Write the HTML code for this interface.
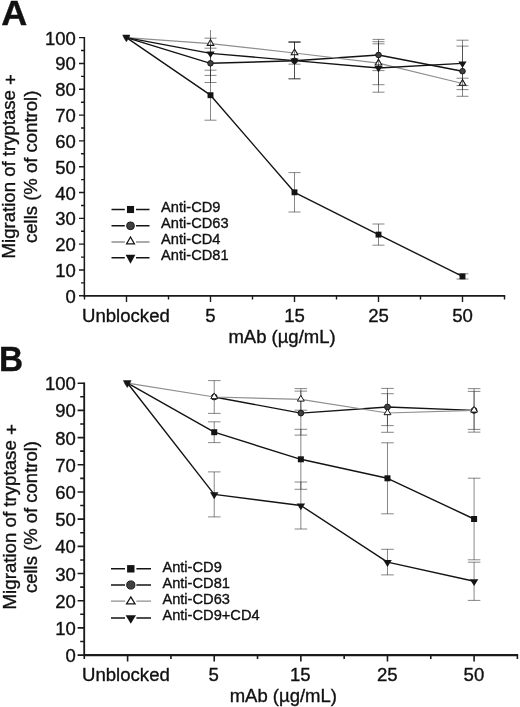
<!DOCTYPE html>
<html><head><meta charset="utf-8"><title>Figure</title>
<style>
html,body{margin:0;padding:0;background:#fff;}
body{width:520px;height:707px;overflow:hidden;}
svg{display:block;font-family:"Liberation Sans", sans-serif;fill:#111;will-change:transform;filter:grayscale(1);}
svg text{stroke:#111;stroke-width:0.35px;}
</style></head>
<body>
<svg width="520" height="707" viewBox="0 0 520 707">
<rect width="520" height="707" fill="#fff"/>
<text transform="translate(1.3 25.4) scale(1.055 1)" font-size="34.2" font-weight="bold">A</text>
<path d="M84.35 36.93V296.7" stroke="#1a1a1a" stroke-width="1.55" fill="none"/>
<path d="M83.57 295.8H505.2" stroke="#1a1a1a" stroke-width="1.8" fill="none"/>
<path d="M84.35 295.8h-5.35M84.35 282.89h-3.35M84.35 269.99h-5.35M84.35 257.08h-3.35M84.35 244.17h-5.35M84.35 231.26h-3.35M84.35 218.36h-5.35M84.35 205.45h-3.35M84.35 192.54h-5.35M84.35 179.63h-3.35M84.35 166.72h-5.35M84.35 153.82h-3.35M84.35 140.91h-5.35M84.35 128h-3.35M84.35 115.09h-5.35M84.35 102.19h-3.35M84.35 89.28h-5.35M84.35 76.37h-3.35M84.35 63.46h-5.35M84.35 50.56h-3.35M84.35 37.65h-5.35M84.5 295.8v3.8M126.5 295.8v6.3M168.5 295.8v3.8M210.5 295.8v6.3M252.5 295.8v3.8M294.5 295.8v6.3M336.5 295.8v3.8M378.5 295.8v6.3M420.5 295.8v3.8M462.5 295.8v6.3M504.5 295.8v3.8" stroke="#1a1a1a" stroke-width="1.4" fill="none"/>
<text transform="translate(75.8 302.8) scale(1 1.02)" text-anchor="end" font-size="18.5">0</text>
<text transform="translate(75.8 276.99) scale(1 1.02)" text-anchor="end" font-size="18.5">10</text>
<text transform="translate(75.8 251.17) scale(1 1.02)" text-anchor="end" font-size="18.5">20</text>
<text transform="translate(75.8 225.36) scale(1 1.02)" text-anchor="end" font-size="18.5">30</text>
<text transform="translate(75.8 199.54) scale(1 1.02)" text-anchor="end" font-size="18.5">40</text>
<text transform="translate(75.8 173.72) scale(1 1.02)" text-anchor="end" font-size="18.5">50</text>
<text transform="translate(75.8 147.91) scale(1 1.02)" text-anchor="end" font-size="18.5">60</text>
<text transform="translate(75.8 122.09) scale(1 1.02)" text-anchor="end" font-size="18.5">70</text>
<text transform="translate(75.8 96.28) scale(1 1.02)" text-anchor="end" font-size="18.5">80</text>
<text transform="translate(75.8 70.46) scale(1 1.02)" text-anchor="end" font-size="18.5">90</text>
<text transform="translate(75.8 44.65) scale(1 1.02)" text-anchor="end" font-size="18.5">100</text>
<text transform="translate(125.9 321.7) scale(1 1.02)" text-anchor="middle" font-size="18.6">Unblocked</text>
<text transform="translate(210.5 321.7) scale(1 1.02)" text-anchor="middle" font-size="18.6">5</text>
<text transform="translate(294.5 321.7) scale(1 1.02)" text-anchor="middle" font-size="18.6">15</text>
<text transform="translate(378.5 321.7) scale(1 1.02)" text-anchor="middle" font-size="18.6">25</text>
<text transform="translate(462.5 321.7) scale(1 1.02)" text-anchor="middle" font-size="18.6">50</text>
<text transform="translate(282 343.1) scale(1 1.02)" text-anchor="middle" font-size="18.5">mAb (µg/mL)</text>
<text transform="translate(15.1 166.22) rotate(-90) scale(1 1.02)" text-anchor="middle" font-size="18.6">Migration of tryptase <tspan dy="2.1">+</tspan></text>
<text transform="translate(36.7 166.82) rotate(-90) scale(1 1.02)" text-anchor="middle" font-size="18.55">cells (% of control)</text>
<clipPath id="ca"><rect x="84.5" y="34.8" width="430" height="261"/></clipPath>
<path d="M210.5 70.2V120.2M204.5 70.2h12M204.5 120.2h12M294.5 172.6V212M288.5 172.6h12M288.5 212h12M378.5 224V245.2M372.5 224h12M372.5 245.2h12M462.5 273.8V279M456.5 273.8h12M456.5 279h12M210.5 44.1V82.5M204.5 82.5h12M294.5 42.3V78.8M288.5 42.3h12M288.5 78.8h12M378.5 39.4V70.6M372.5 39.4h12M372.5 70.6h12M462.5 46.1V96.3M456.5 46.1h12M456.5 96.3h12M210.5 38.2V48.2M204.5 38.2h12M204.5 48.2h12M294.5 41.6V64.2M288.5 41.6h12M288.5 64.2h12M378.5 41.7V84.7M372.5 41.7h12M372.5 84.7h12M462.5 78.2V89.6M456.5 78.2h12M456.5 89.6h12M210.5 30V75.4M204.5 75.4h12M294.5 42.3V78.8M288.5 42.3h12M288.5 78.8h12M378.5 43.8V92.2M372.5 43.8h12M372.5 92.2h12M462.5 40.2V85.6M456.5 40.2h12M456.5 85.6h12" stroke="#222" stroke-width="0.55" fill="none"/>
<path d="M126.5 37.65L210.5 95.2L294.5 192.3L378.5 234.6L462.5 276.4" stroke="#141414" stroke-width="1.4" fill="none" stroke-linejoin="round" clip-path="url(#ca)"/>
<g clip-path="url(#ca)"><rect x="207.55" y="92.25" width="5.9" height="5.9" fill="#141414"/><rect x="291.55" y="189.35" width="5.9" height="5.9" fill="#141414"/><rect x="375.55" y="231.65" width="5.9" height="5.9" fill="#141414"/><rect x="459.55" y="273.45" width="5.9" height="5.9" fill="#141414"/></g>
<path d="M126.5 37.65L210.5 63.3L294.5 60.8L378.5 55L462.5 71.2" stroke="#141414" stroke-width="1.4" fill="none" stroke-linejoin="round" clip-path="url(#ca)"/>
<g clip-path="url(#ca)"><circle cx="210.5" cy="63.3" r="2.8" fill="#404040" stroke="#1a1a1a" stroke-width="1"/><circle cx="294.5" cy="60.8" r="2.8" fill="#404040" stroke="#1a1a1a" stroke-width="1"/><circle cx="378.5" cy="55" r="2.8" fill="#404040" stroke="#1a1a1a" stroke-width="1"/><circle cx="462.5" cy="71.2" r="2.8" fill="#404040" stroke="#1a1a1a" stroke-width="1"/></g>
<path d="M126.5 37.65L210.5 43.6L294.5 53L378.5 63.2L462.5 83.5" stroke="#8e8e8e" stroke-width="1.25" fill="none" stroke-linejoin="round" clip-path="url(#ca)"/>
<g clip-path="url(#ca)"><path d="M210.5 39.6L213.8 45.35L207.2 45.35Z" fill="#fff" stroke="#141414" stroke-width="1.1"/><path d="M294.5 49L297.8 54.75L291.2 54.75Z" fill="#fff" stroke="#141414" stroke-width="1.1"/><path d="M378.5 59.2L381.8 64.95L375.2 64.95Z" fill="#fff" stroke="#141414" stroke-width="1.1"/><path d="M462.5 79.5L465.8 85.25L459.2 85.25Z" fill="#fff" stroke="#141414" stroke-width="1.1"/></g>
<path d="M126.5 37.65L210.5 53.4L294.5 60.6L378.5 68L462.5 63.4" stroke="#141414" stroke-width="1.4" fill="none" stroke-linejoin="round" clip-path="url(#ca)"/>
<path d="M210.5 39.4V45.5M294.5 48.8V54.9M378.5 59V65.1M462.5 79.3V85.4" stroke="#222" stroke-width="0.55" fill="none"/>
<g clip-path="url(#ca)"><path d="M210.5 57.9L214.6 51.4L206.4 51.4Z" fill="#141414"/><path d="M294.5 65.1L298.6 58.6L290.4 58.6Z" fill="#141414"/><path d="M378.5 72.5L382.6 66L374.4 66Z" fill="#141414"/><path d="M462.5 67.9L466.6 61.4L458.4 61.4Z" fill="#141414"/></g>
<path d="M122.7 35H129.9L128.5 38.5L126.4 41.8L124.3 38.5Z" fill="#141414" stroke="#141414" stroke-width="0.5" stroke-linejoin="round"/>
<path d="M111.5 209.5H124.8M136 209.5H149.5" stroke="#141414" stroke-width="1.45" fill="none"/>
<rect x="126.95" y="205.95" width="7.1" height="7.1" fill="#141414"/>
<text transform="translate(161.1 212) scale(1 1.02)" font-size="14.65">Anti-CD9</text>
<path d="M111.5 225.8H124.8M136 225.8H149.5" stroke="#141414" stroke-width="1.45" fill="none"/>
<circle cx="130.5" cy="225.8" r="3.9" fill="#404040" stroke="#1a1a1a" stroke-width="1"/>
<text transform="translate(161.1 228.1) scale(1 1.02)" font-size="14.65">Anti-CD63</text>
<path d="M111.5 242H124.8M136 242H149.5" stroke="#8e8e8e" stroke-width="1.3" fill="none"/>
<path d="M130.5 236.98L134.43 243.97L126.57 243.97Z" fill="#fff" stroke="#141414" stroke-width="1.25"/>
<text transform="translate(161.1 244.2) scale(1 1.02)" font-size="14.65">Anti-CD4</text>
<path d="M111.5 257.8H124.8M136 257.8H149.5" stroke="#141414" stroke-width="1.45" fill="none"/>
<path d="M130.5 263.8L135.4 254.7L125.6 254.7Z" fill="#141414"/>
<text transform="translate(161.1 260.1) scale(1 1.02)" font-size="14.65">Anti-CD81</text>
<text transform="translate(-0.9 370.6) scale(0.975 1)" font-size="34.2" font-weight="bold">B</text>
<path d="M84.2 382.48V656" stroke="#1a1a1a" stroke-width="1.85" fill="none"/>
<path d="M83.28 655.1H518.1" stroke="#1a1a1a" stroke-width="2.05" fill="none"/>
<path d="M84.2 655.1h-6.6M84.2 641.5h-4M84.2 627.91h-6.6M84.2 614.32h-4M84.2 600.72h-6.6M84.2 587.12h-4M84.2 573.53h-6.6M84.2 559.93h-4M84.2 546.34h-6.6M84.2 532.75h-4M84.2 519.15h-6.6M84.2 505.56h-4M84.2 491.96h-6.6M84.2 478.37h-4M84.2 464.77h-6.6M84.2 451.17h-4M84.2 437.58h-6.6M84.2 423.99h-4M84.2 410.39h-6.6M84.2 396.79h-4M84.2 383.2h-6.6M84.3 655.1v3.8M127.61 655.1v6.3M170.92 655.1v3.8M214.23 655.1v6.3M257.54 655.1v3.8M300.85 655.1v6.3M344.16 655.1v3.8M387.47 655.1v6.3M430.78 655.1v3.8M474.09 655.1v6.3M517.4 655.1v3.8" stroke="#1a1a1a" stroke-width="1.6" fill="none"/>
<text transform="translate(75.8 662.1) scale(1 1.02)" text-anchor="end" font-size="18.5">0</text>
<text transform="translate(75.8 634.91) scale(1 1.02)" text-anchor="end" font-size="18.5">10</text>
<text transform="translate(75.8 607.72) scale(1 1.02)" text-anchor="end" font-size="18.5">20</text>
<text transform="translate(75.8 580.53) scale(1 1.02)" text-anchor="end" font-size="18.5">30</text>
<text transform="translate(75.8 553.34) scale(1 1.02)" text-anchor="end" font-size="18.5">40</text>
<text transform="translate(75.8 526.15) scale(1 1.02)" text-anchor="end" font-size="18.5">50</text>
<text transform="translate(75.8 498.96) scale(1 1.02)" text-anchor="end" font-size="18.5">60</text>
<text transform="translate(75.8 471.77) scale(1 1.02)" text-anchor="end" font-size="18.5">70</text>
<text transform="translate(75.8 444.58) scale(1 1.02)" text-anchor="end" font-size="18.5">80</text>
<text transform="translate(75.8 417.39) scale(1 1.02)" text-anchor="end" font-size="18.5">90</text>
<text transform="translate(75.8 390.2) scale(1 1.02)" text-anchor="end" font-size="18.5">100</text>
<text transform="translate(125.91 681) scale(1 1.02)" text-anchor="middle" font-size="18.6">Unblocked</text>
<text transform="translate(213.73 681) scale(1 1.02)" text-anchor="middle" font-size="18.6">5</text>
<text transform="translate(300.35 681) scale(1 1.02)" text-anchor="middle" font-size="18.6">15</text>
<text transform="translate(387.27 681) scale(1 1.02)" text-anchor="middle" font-size="18.6">25</text>
<text transform="translate(473.89 681) scale(1 1.02)" text-anchor="middle" font-size="18.6">50</text>
<text transform="translate(283.3 702.4) scale(1 1.02)" text-anchor="middle" font-size="18.5">mAb (µg/mL)</text>
<text transform="translate(15.5 516.75) rotate(-90) scale(1 1.02)" text-anchor="middle" font-size="18.7">Migration of tryptase <tspan dy="2.1">+</tspan></text>
<text transform="translate(36.9 517.05) rotate(-90) scale(1 1.02)" text-anchor="middle" font-size="18.5">cells (% of control)</text>
<clipPath id="cb"><rect x="84.3" y="380.6" width="443.1" height="274.5"/></clipPath>
<path d="M214.23 421.8V442.6M207.93 421.8h12.6M207.93 442.6h12.6M300.85 429.3V489.3M294.55 429.3h12.6M294.55 489.3h12.6M387.47 442.8V513.8M381.17 442.8h12.6M381.17 513.8h12.6M474.09 478.2V559.8M467.79 478.2h12.6M467.79 559.8h12.6M300.85 391.1V435.1M294.55 391.1h12.6M294.55 435.1h12.6M387.47 388.4V425.6M381.17 388.4h12.6M381.17 425.6h12.6M474.09 391.4V429.4M467.79 391.4h12.6M467.79 429.4h12.6M214.23 380.6V413.4M207.93 380.6h12.6M207.93 413.4h12.6M300.85 388.6V410.2M294.55 388.6h12.6M294.55 410.2h12.6M387.47 393.7V432.3M381.17 393.7h12.6M381.17 432.3h12.6M474.09 388.65V432.15M467.79 388.65h12.6M467.79 432.15h12.6M214.23 471.9V516.9M207.93 471.9h12.6M207.93 516.9h12.6M300.85 482V529M294.55 482h12.6M294.55 529h12.6M387.47 549.3V574.9M381.17 549.3h12.6M381.17 574.9h12.6M474.09 562.2V600.4M467.79 562.2h12.6M467.79 600.4h12.6" stroke="#222" stroke-width="0.55" fill="none"/>
<path d="M127.61 383.2L214.23 432.2L300.85 459.3L387.47 478.3L474.09 519" stroke="#141414" stroke-width="1.4" fill="none" stroke-linejoin="round" clip-path="url(#cb)"/>
<g clip-path="url(#cb)"><rect x="211.23" y="429.2" width="6" height="6" fill="#141414"/><rect x="297.85" y="456.3" width="6" height="6" fill="#141414"/><rect x="384.47" y="475.3" width="6" height="6" fill="#141414"/><rect x="471.09" y="516" width="6" height="6" fill="#141414"/></g>
<path d="M214.23 397L300.85 413.1L387.47 407L474.09 410.4" stroke="#141414" stroke-width="1.4" fill="none" stroke-linejoin="round" clip-path="url(#cb)"/>
<g clip-path="url(#cb)"><circle cx="214.23" cy="397" r="2.9" fill="#404040" stroke="#1a1a1a" stroke-width="1"/><circle cx="300.85" cy="413.1" r="2.9" fill="#404040" stroke="#1a1a1a" stroke-width="1"/><circle cx="387.47" cy="407" r="2.9" fill="#404040" stroke="#1a1a1a" stroke-width="1"/><circle cx="474.09" cy="410.4" r="2.9" fill="#404040" stroke="#1a1a1a" stroke-width="1"/></g>
<path d="M127.61 383.2L214.23 397L300.85 399.4L387.47 413L474.09 410.4" stroke="#8e8e8e" stroke-width="1.25" fill="none" stroke-linejoin="round" clip-path="url(#cb)"/>
<g clip-path="url(#cb)"><path d="M214.23 392.97L217.69 398.7L210.77 398.7Z" fill="#fff" stroke="#141414" stroke-width="1.0"/><path d="M300.85 395.37L304.31 401.1L297.39 401.1Z" fill="#fff" stroke="#141414" stroke-width="1.0"/><path d="M387.47 408.97L390.93 414.7L384.01 414.7Z" fill="#fff" stroke="#141414" stroke-width="1.0"/><path d="M474.09 406.37L477.55 412.1L470.63 412.1Z" fill="#fff" stroke="#141414" stroke-width="1.0"/></g>
<path d="M127.61 383.2L214.23 494.4L300.85 505.5L387.47 562.1L474.09 581.3" stroke="#141414" stroke-width="1.4" fill="none" stroke-linejoin="round" clip-path="url(#cb)"/>
<g clip-path="url(#cb)"><path d="M214.23 499.2L218.48 492.3L209.98 492.3Z" fill="#141414"/><path d="M300.85 510.3L305.1 503.4L296.6 503.4Z" fill="#141414"/><path d="M387.47 566.9L391.72 560L383.22 560Z" fill="#141414"/><path d="M474.09 586.1L478.34 579.2L469.84 579.2Z" fill="#141414"/></g>
<path d="M123.4 380.5H131.1L129.6 384.1L127.3 387.5L125 384.1Z" fill="#141414" stroke="#141414" stroke-width="0.5" stroke-linejoin="round"/>
<path d="M111 568.8H125M136.4 568.8H151" stroke="#141414" stroke-width="1.45" fill="none"/>
<rect x="127.1" y="565.1" width="7.4" height="7.4" fill="#141414"/>
<text transform="translate(162.4 572) scale(1 1.02)" font-size="14.65">Anti-CD9</text>
<path d="M111 585H125M136.4 585H151" stroke="#141414" stroke-width="1.45" fill="none"/>
<circle cx="130.8" cy="585" r="4.1" fill="#404040" stroke="#1a1a1a" stroke-width="1"/>
<text transform="translate(162.4 588) scale(1 1.02)" font-size="14.65">Anti-CD81</text>
<path d="M111 601.2H125M136.4 601.2H151" stroke="#8e8e8e" stroke-width="1.3" fill="none"/>
<path d="M130.8 596.91L135.05 603.98L126.55 603.98Z" fill="#fff" stroke="#141414" stroke-width="1.25"/>
<text transform="translate(162.4 604) scale(1 1.02)" font-size="14.65">Anti-CD63</text>
<path d="M111 618H125M136.4 618H151" stroke="#141414" stroke-width="1.45" fill="none"/>
<path d="M130.8 623.8L136 615.2L125.6 615.2Z" fill="#141414"/>
<text transform="translate(162.4 620) scale(1 1.02)" font-size="14.65">Anti-CD9+CD4</text>
</svg>
</body></html>
